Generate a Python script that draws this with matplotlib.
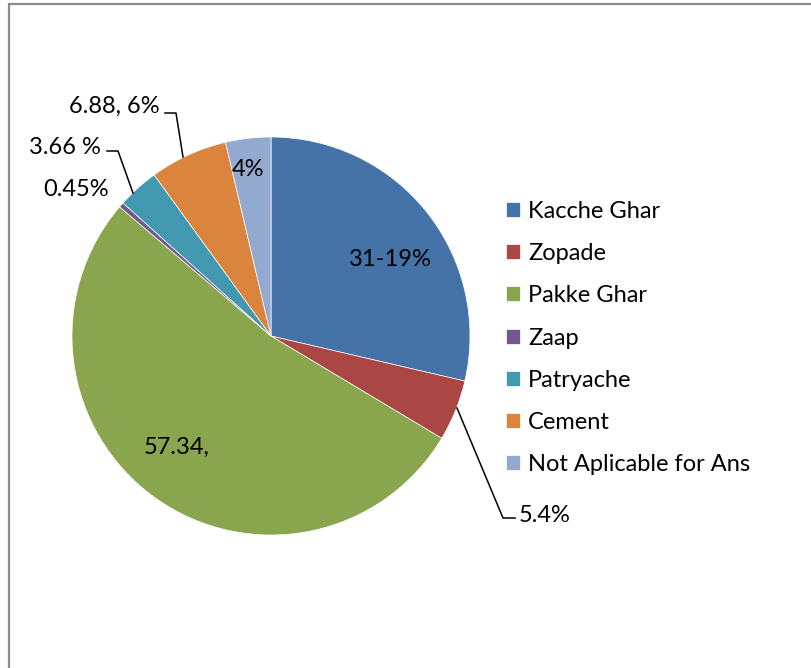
import matplotlib.pyplot as plt
from matplotlib.patches import Rectangle

# data
categories = ["Kacche Ghar", "Zopade", "Pakke Ghar", "Zaap", "Patryache",
              "Cement", "Not Aplicable for Ans"]
values = [31.19, 5.4, 57.34, 0.45, 3.66, 6.88, 4]
slice_labels = ["31-19%", "5.4%", "57.34,", "0.45%", "3.66 %", "6.88, 6%", "4%"]
colors = ["#4572A7", "#AA4643", "#89A54E", "#71588F", "#4198AF", "#DB843D", "#93A9CF"]

W, H = 811, 668
plt.rcParams["font.family"] = ["Lato", "DejaVu Sans"]
fig = plt.figure(figsize=(W / 100, H / 100), dpi=100)
ax = fig.add_axes([0, 0, 1, 1])
ax.set_xlim(0, W); ax.set_ylim(0, H); ax.axis("off")

# outer chart frame
ax.add_patch(Rectangle((9, -10), W + 20, H - 4 + 10, facecolor="none",
                       edgecolor="#8c8c8c", linewidth=1.6))

cx, cy, r = 271, H - 336, 199
wedges, _ = ax.pie(values, colors=colors, startangle=90, counterclock=False,
                   center=(cx, cy), radius=r, frame=True,
                   wedgeprops=dict(edgecolor="white", linewidth=0.5))
ax.set_xlim(0, W); ax.set_ylim(0, H); ax.axis("off")

fs = 17
# labels inside / near slices (pixel positions, y from top)
def put(x, y, s, ha="center"):
    ax.text(x, H - y, s, fontsize=fs, ha=ha, va="center", color="black")

put(390, 259, slice_labels[0])
put(177, 447, slice_labels[2])
put(248, 169, slice_labels[6])
put(76, 190, slice_labels[3])
put(101, 147, slice_labels[4], ha="right")
put(160, 106, slice_labels[5], ha="right")
put(519, 516, slice_labels[1], ha="left")

# leader lines
def leader(pts):
    xs = [p[0] for p in pts]
    ys = [H - p[1] for p in pts]
    ax.plot(xs, ys, color="black", linewidth=1.1)

leader([(165, 113), (176, 113), (183, 157)])
leader([(107, 151), (118, 151), (133, 193)])
leader([(457, 408), (503, 518), (515, 518)])

leg = ax.legend(wedges, categories, loc="upper left",
                bbox_to_anchor=(494 / W, 1 - 189 / H), frameon=False,
                fontsize=fs, handlelength=0.6, handleheight=0.6,
                handletextpad=0.35, labelspacing=0.9, borderpad=0)

fig.savefig("out.png", dpi=100, facecolor="white")
